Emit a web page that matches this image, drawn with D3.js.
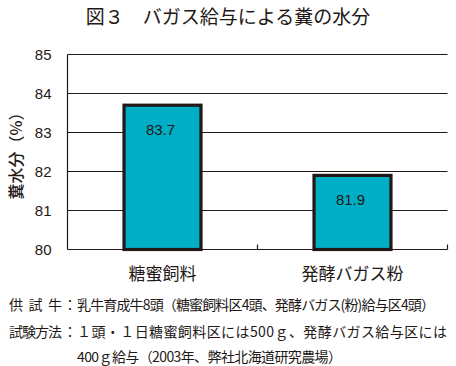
<!DOCTYPE html>
<html>
<head>
<meta charset="utf-8">
<script src="https://cdn.jsdelivr.net/npm/d3@7"></script>
<style>
  body { margin: 0; background: #fff; }
  text { fill: #231815; }
</style>
</head>
<body>
<div id="chart"></div>
<script>
// data
const categories = ["糖蜜飼料", "発酵バガス粉"];
const values = [83.7, 81.9];
const yTicks = [80, 81, 82, 83, 84, 85];

const title = "図３　バガス給与による糞の水分";
const yTitle = "糞水分（%）";
const notes = [
  { label: "供 試 牛", text: "乳牛育成牛8頭（糖蜜飼料区4頭、発酵バガス(粉)給与区4頭）", len: 358 },
  { label: "試験方法", text: "１頭・１日糖蜜飼料区には500ｇ、発酵バガス給与区には", len: 370 },
  { label: null, text: "400ｇ給与（2003年、弊社北海道研究農場）", len: 265 }
];

const W = 456, H = 366;
const margin = { top: 54.5, right: 8.5, bottom: 116.5, left: 67.5 },
  width = W - margin.left - margin.right,
  height = H - margin.top - margin.bottom;

const ink = "#231815";
const cjk = "'Noto Sans CJK JP', 'Noto Sans', sans-serif";
const latin = "'Liberation Sans', Arial, sans-serif";

const root = d3.select("#chart")
  .append("svg")
  .attr("width", W)
  .attr("height", H);

// title
root.append("text")
  .attr("x", 228)
  .attr("y", 24)
  .attr("text-anchor", "middle")
  .style("font-family", cjk)
  .style("font-size", "19px")
  .style("font-weight", 400)
  .text(title);

const svg = root.append("g")
  .attr("transform", `translate(${margin.left},${margin.top})`);

const x = d3.scaleBand()
  .domain(categories)
  .range([0, width])
  .padding(0);

const y = d3.scaleLinear()
  .domain([80, 85])
  .range([height, 0]);

// gridlines
svg.append("g")
  .selectAll("line")
  .data(yTicks)
  .join("line")
  .attr("x1", 0)
  .attr("x2", width)
  .attr("y1", d => y(d))
  .attr("y2", d => y(d))
  .attr("stroke", ink)
  .attr("stroke-width", 1.2);

// left axis line
svg.append("line")
  .attr("x1", 0).attr("x2", 0)
  .attr("y1", 0).attr("y2", height)
  .attr("stroke", ink)
  .attr("stroke-width", 1.2);

// inward ticks on the category axis
svg.append("g")
  .selectAll("line")
  .data(categories)
  .join("line")
  .attr("x1", d => x(d) + x.bandwidth())
  .attr("x2", d => x(d) + x.bandwidth())
  .attr("y1", height)
  .attr("y2", height - 5)
  .attr("stroke", ink)
  .attr("stroke-width", 1.2);

// y tick labels
svg.append("g")
  .selectAll("text")
  .data(yTicks)
  .join("text")
  .attr("x", -16)
  .attr("y", d => y(d) + 5)
  .attr("text-anchor", "end")
  .style("font-family", latin)
  .style("font-size", "15px")
  .text(d => d);

// y title
root.append("text")
  .attr("transform", "translate(22,152) rotate(-90)")
  .attr("text-anchor", "middle")
  .style("font-family", cjk)
  .style("font-size", "16px")
  .style("font-weight", 500)
  .text(yTitle);

// bars
const barW = x.bandwidth() * 0.405;
svg.selectAll("rect.bar")
  .data(values)
  .join("rect")
  .attr("class", "bar")
  .attr("x", (d, i) => x(categories[i]) + (x.bandwidth() - barW) / 2)
  .attr("y", d => y(d))
  .attr("width", barW)
  .attr("height", d => height - y(d))
  .attr("fill", "#00AEC5")
  .attr("stroke", ink)
  .attr("stroke-width", 3.2);

// value labels
svg.selectAll("text.val")
  .data(values)
  .join("text")
  .attr("class", "val")
  .attr("x", (d, i) => x(categories[i]) + x.bandwidth() / 2 - 2)
  .attr("y", d => y(d) + 30)
  .attr("text-anchor", "middle")
  .style("font-family", latin)
  .style("font-size", "15px")
  .text(d => d.toFixed(1));

// category labels
svg.selectAll("text.cat")
  .data(categories)
  .join("text")
  .attr("class", "cat")
  .attr("x", d => x(d) + x.bandwidth() / 2)
  .attr("y", height + 30)
  .attr("text-anchor", "middle")
  .style("font-family", cjk)
  .style("font-size", "17px")
  .text(d => d);

// notes under the chart
const noteY = [310, 337, 362];
notes.forEach((n, i) => {
  if (n.label) {
    root.append("text")
      .attr("x", 9)
      .attr("y", noteY[i])
      .attr("textLength", 53)
      .attr("lengthAdjust", "spacing")
      .style("font-family", cjk)
      .style("font-size", "14px")
      .text(n.label);
    root.append("text")
      .attr("x", 63)
      .attr("y", noteY[i])
      .style("font-family", cjk)
      .style("font-size", "14px")
      .text("：");
  }
  root.append("text")
    .attr("x", 77)
    .attr("y", noteY[i])
    .attr("textLength", n.len)
    .attr("lengthAdjust", "spacing")
    .style("font-family", cjk)
    .style("font-size", "14px")
    .text(n.text);
});
</script>
</body>
</html>
